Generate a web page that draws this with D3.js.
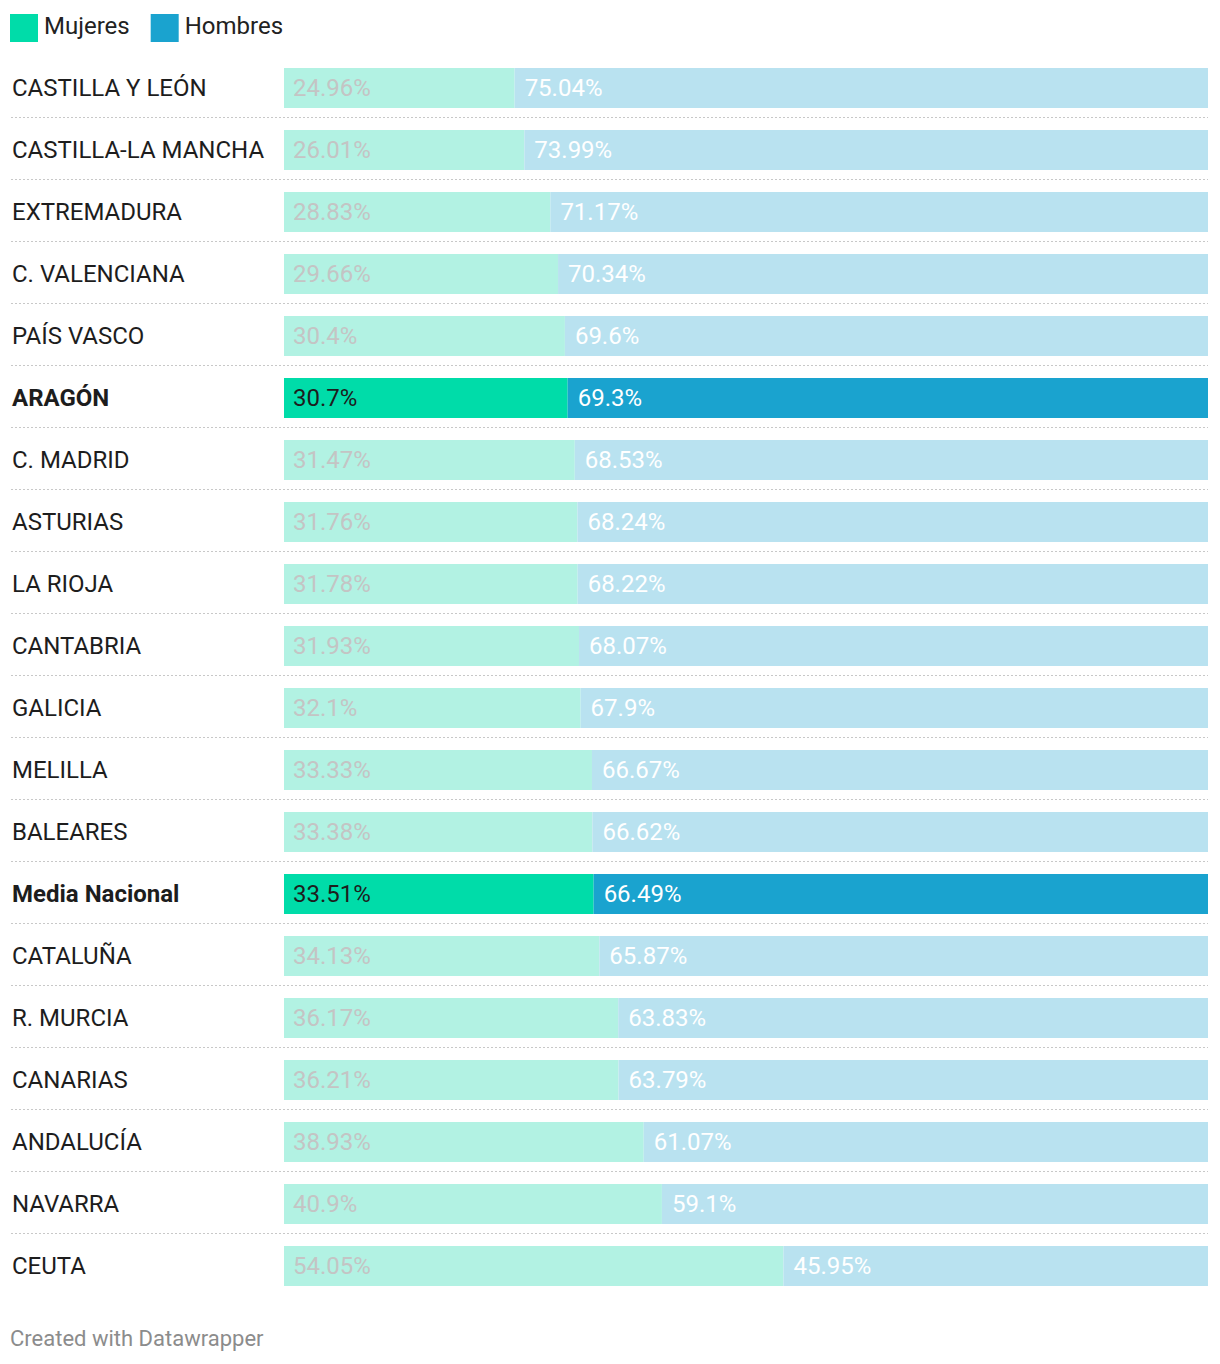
<!DOCTYPE html>
<html><head><meta charset="utf-8">
<script src="https://cdn.jsdelivr.net/npm/d3@7"></script>
<style>body{margin:0;background:#fff;font-family:Roboto,sans-serif;}</style>
</head><body>
<svg id="chart" width="1220" height="1364"></svg>
<script>
const categories = ["CASTILLA Y LEÓN","CASTILLA-LA MANCHA","EXTREMADURA","C. VALENCIANA","PAÍS VASCO","ARAGÓN","C. MADRID","ASTURIAS","LA RIOJA","CANTABRIA","GALICIA","MELILLA","BALEARES","Media Nacional","CATALUÑA","R. MURCIA","CANARIAS","ANDALUCÍA","NAVARRA","CEUTA"];
const mujeres = [24.96,26.01,28.83,29.66,30.4,30.7,31.47,31.76,31.78,31.93,32.1,33.33,33.38,33.51,34.13,36.17,36.21,38.93,40.9,54.05];
const hombres = [75.04,73.99,71.17,70.34,69.6,69.3,68.53,68.24,68.22,68.07,67.9,66.67,66.62,66.49,65.87,63.83,63.79,61.07,59.1,45.95];
const highlighted = ["ARAGÓN","Media Nacional"];
const seriesNames = ["Mujeres","Hombres"];

const svg = d3.select("#chart");
const x = d3.scaleLinear().domain([0,100]).range([284,1208]);
const y = d3.scaleBand().domain(categories).range([57,1297]).paddingInner(0.355).paddingOuter(0.1775);
const colors = {Mujeres:"#00dca9", Hombres:"#1aa3cf"};
const faded = {Mujeres:"#b2f2e3", Hombres:"#b9e2f0"};

// legend
const leg = svg.append("g");
let lx = 10;
seriesNames.forEach(n => {
  leg.append("rect").attr("x", lx).attr("y", 14).attr("width", 28).attr("height", 28).attr("fill", colors[n]);
  const t = leg.append("text").attr("x", lx + 34).attr("y", 34).attr("font-size", 24).attr("fill", "#222").text(n);
  lx += 34 + t.node().getComputedTextLength() + 21;
});

// separators
categories.slice(0, -1).forEach(c => {
  const yy = Math.round(y(c) + y.bandwidth() + 10) - 0.5;
  svg.append("line").attr("x1", 11).attr("x2", 1208).attr("y1", yy).attr("y2", yy)
    .attr("stroke", "#c8c8c8").attr("stroke-width", 1.2).attr("stroke-dasharray", "2,2");
});

const rows = svg.selectAll("g.row").data(categories).join("g").attr("class","row");
rows.each(function(c, i) {
  const g = d3.select(this);
  const hl = highlighted.includes(c);
  const top = y(c), h = y.bandwidth(), cy = top + h/2;
  g.append("text").attr("x", 12).attr("y", cy + 8).attr("font-size", 24)
    .attr("font-weight", hl ? 700 : 400).attr("fill", "#1d1d1d").text(c);
  const m = mujeres[i], hm = hombres[i];
  g.append("rect").attr("x", x(0)).attr("y", top).attr("width", x(m) - x(0)).attr("height", h)
    .attr("fill", hl ? colors.Mujeres : faded.Mujeres);
  g.append("rect").attr("x", x(m)).attr("y", top).attr("width", x(m + hm) - x(m)).attr("height", h)
    .attr("fill", hl ? colors.Hombres : faded.Hombres);
  g.append("text").attr("x", x(0) + 9).attr("y", cy + 8).attr("font-size", 24)
    .attr("fill", hl ? "#1d1d1d" : "#c4c4c4").text(m + "%");
  g.append("text").attr("x", x(m) + 10).attr("y", cy + 8).attr("font-size", 24)
    .attr("fill", "#ffffff").text(hm + "%");
});

svg.append("text").attr("x", 10).attr("y", 1346).attr("font-size", 22).attr("fill", "#8c8c8c").text("Created with Datawrapper");
</script>
</body></html>
